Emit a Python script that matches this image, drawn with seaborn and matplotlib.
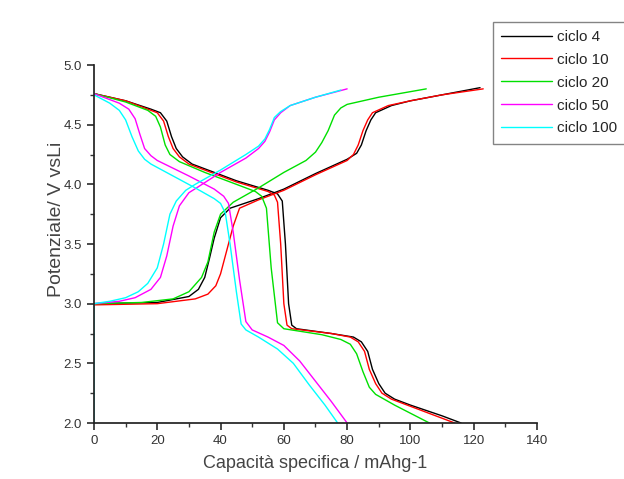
import numpy as np
import pandas as pd
import seaborn as sns
from matplotlib import pyplot as plt
from matplotlib.ticker import MultipleLocator

cycles = ["ciclo 4", "ciclo 10", "ciclo 20", "ciclo 50", "ciclo 100"]
colors = ["#000000", "#ff0000", "#00e000", "#ff00ff", "#00ffff"]

# charge curves (capacity mAh/g, potential V)
charge_4_x = [0, 20, 30, 33, 35, 36.5, 38, 40, 43, 52, 60, 70, 80, 83, 84.5, 86, 87.5, 89, 94, 100, 110, 122]
charge_4_y = [3.0, 3.01, 3.06, 3.12, 3.22, 3.38, 3.55, 3.72, 3.8, 3.88, 3.96, 4.09, 4.21, 4.26, 4.33, 4.45, 4.54, 4.6, 4.66, 4.7, 4.75, 4.81]
charge_10_x = [0, 20, 32, 36, 38.5, 40, 42, 44, 46, 52, 60, 70, 80, 82, 83.5, 85, 86.5, 88, 93, 100, 110, 123]
charge_10_y = [2.99, 3.0, 3.04, 3.08, 3.15, 3.25, 3.45, 3.65, 3.8, 3.87, 3.95, 4.08, 4.2, 4.25, 4.33, 4.45, 4.54, 4.6, 4.66, 4.7, 4.75, 4.8]
charge_20_x = [0, 15, 25, 30, 34, 36, 38, 40, 44, 52, 60, 67, 70, 72, 74, 76, 78, 80, 90, 105]
charge_20_y = [3.0, 3.01, 3.04, 3.1, 3.22, 3.35, 3.6, 3.75, 3.85, 3.97, 4.1, 4.2, 4.27, 4.35, 4.45, 4.58, 4.64, 4.67, 4.73, 4.8]
charge_50_x = [0, 8, 13, 18, 21, 23, 25, 27, 30, 33, 40, 48, 52, 54, 55.5, 57, 59, 62, 70, 80]
charge_50_y = [3.0, 3.02, 3.05, 3.12, 3.22, 3.4, 3.65, 3.82, 3.93, 3.98, 4.1, 4.22, 4.3, 4.36, 4.44, 4.54, 4.6, 4.66, 4.73, 4.8]
charge_100_x = [0, 0, 5, 10, 14, 17, 20, 22, 24, 26, 29, 32, 40, 48, 52, 54, 55.5, 57, 59, 62, 70, 78]
charge_100_y = [2.0, 3.0, 3.02, 3.05, 3.1, 3.17, 3.3, 3.5, 3.75, 3.86, 3.95, 4.0, 4.12, 4.25, 4.32, 4.38, 4.46, 4.56, 4.61, 4.66, 4.73, 4.79]

# discharge curves
dis_4_x = [0, 10, 18, 21, 23, 24.5, 26, 28, 31, 35, 45, 55, 58, 59.5, 60.5, 61.5, 62.5, 64, 75, 82, 84.5, 86.5, 88, 90, 92, 95, 100, 110, 116]
dis_4_y = [4.76, 4.7, 4.63, 4.6, 4.53, 4.4, 4.3, 4.23, 4.17, 4.13, 4.03, 3.95, 3.92, 3.86, 3.5, 3.0, 2.82, 2.79, 2.75, 2.72, 2.68, 2.6, 2.45, 2.33, 2.25, 2.2, 2.15, 2.06, 2.0]
dis_10_x = [0, 10, 17, 20, 22, 23.5, 25, 27, 30, 35, 45, 55, 57, 58, 59, 60, 61, 62.5, 75, 81, 83.5, 85.5, 87, 89, 91, 94, 100, 108, 114]
dis_10_y = [4.76, 4.7, 4.63, 4.6, 4.53, 4.4, 4.3, 4.23, 4.17, 4.12, 4.02, 3.94, 3.91, 3.85, 3.5, 3.0, 2.82, 2.79, 2.75, 2.72, 2.68, 2.6, 2.45, 2.33, 2.25, 2.2, 2.14, 2.06, 2.0]
dis_20_x = [0, 10, 17, 19.5, 21, 22.5, 24, 27, 35, 45, 51, 53, 54.5, 56, 58, 60, 72, 78, 81, 83, 85, 87, 89, 95, 106]
dis_20_y = [4.76, 4.69, 4.62, 4.57, 4.48, 4.33, 4.25, 4.19, 4.1, 4.0, 3.94, 3.9, 3.8, 3.3, 2.84, 2.79, 2.74, 2.7, 2.66, 2.58, 2.43, 2.3, 2.24, 2.15, 2.0]
dis_50_x = [0, 8, 11, 13, 14.5, 16, 18, 20, 30, 38, 41, 42.5, 44, 46, 48, 50, 55, 60, 65, 70, 75, 80]
dis_50_y = [4.76, 4.68, 4.63, 4.55, 4.42, 4.3, 4.24, 4.2, 4.07, 3.96, 3.9, 3.84, 3.6, 3.2, 2.85, 2.78, 2.72, 2.65, 2.52, 2.35, 2.18, 2.0]
dis_100_x = [0, 5, 8, 10, 12, 14, 16, 18, 25, 32, 38, 40, 41.5, 43, 45, 46.5, 48, 52, 58, 63, 68, 73, 77]
dis_100_y = [4.75, 4.68, 4.62, 4.54, 4.4, 4.28, 4.21, 4.17, 4.07, 3.97, 3.88, 3.84, 3.76, 3.5, 3.1, 2.83, 2.78, 2.72, 2.62, 2.5, 2.32, 2.15, 2.0]

curves = [
    ("ciclo 4", charge_4_x, charge_4_y, dis_4_x, dis_4_y),
    ("ciclo 10", charge_10_x, charge_10_y, dis_10_x, dis_10_y),
    ("ciclo 20", charge_20_x, charge_20_y, dis_20_x, dis_20_y),
    ("ciclo 50", charge_50_x, charge_50_y, dis_50_x, dis_50_y),
    ("ciclo 100", charge_100_x, charge_100_y, dis_100_x, dis_100_y),
]

rows = []
for name, cx, cy, dx, dy in curves:
    for i, (xv, yv) in enumerate(zip(cx, cy)):
        rows.append([name, name + " carica", i, xv, yv])
    for i, (xv, yv) in enumerate(zip(dx, dy)):
        rows.append([name, name + " scarica", i, xv, yv])
df = pd.DataFrame(rows, columns=["ciclo", "tratto", "idx", "cap", "pot"])

sns.set_theme(style="ticks")
plt.rcParams["font.family"] = ["Liberation Sans", "DejaVu Sans"]

fig = plt.figure(figsize=(6.24, 4.79), dpi=100)
ax = fig.add_axes([0.1506, 0.1169, 0.71, 0.7474])
sns.lineplot(
    data=df,
    x="cap",
    y="pot",
    hue="ciclo",
    units="tratto",
    estimator=None,
    sort=False,
    palette=dict(zip(cycles, colors)),
    hue_order=cycles,
    linewidth=1.0,
    ax=ax,
    legend=False,
)
ax.set_xlim(0, 140)
ax.set_ylim(2.0, 5.0)
ax.xaxis.set_major_locator(MultipleLocator(20))
ax.xaxis.set_minor_locator(MultipleLocator(10))
ax.yaxis.set_major_locator(MultipleLocator(0.5))
ax.yaxis.set_minor_locator(MultipleLocator(0.25))
ax.yaxis.set_major_formatter(plt.FormatStrFormatter("%.1f"))
ax.tick_params(which="both", direction="out", colors="#333333", labelsize=9.5)
ax.tick_params(which="major", length=5)
ax.tick_params(which="minor", length=3)
for s in ["top", "right"]:
    ax.spines[s].set_visible(False)
ax.spines["left"].set_color("#222222")
ax.spines["bottom"].set_color("#222222")
ax.set_xlabel("Capacità specifica / mAhg-1", fontsize=13, color="#444444", labelpad=6)
ax.set_ylabel("Potenziale/ V vsLi", fontsize=14, color="#444444")
ax.yaxis.set_label_coords(-0.065, 0.57)

handles = [plt.Line2D([], [], color=c, lw=1.0) for c in colors]
leg = fig.legend(
    handles,
    cycles,
    loc="upper left",
    bbox_to_anchor=(0.79, 0.955),
    fontsize=11,
    frameon=True,
    fancybox=False,
    handlelength=3.3,
    handletextpad=0.35,
    labelspacing=0.58,
    borderpad=0.55,
    borderaxespad=0,
)
leg.get_frame().set_edgecolor("#666666")
leg.get_frame().set_linewidth(1.0)

plt.savefig("out.png", dpi=100)
plt.close()
